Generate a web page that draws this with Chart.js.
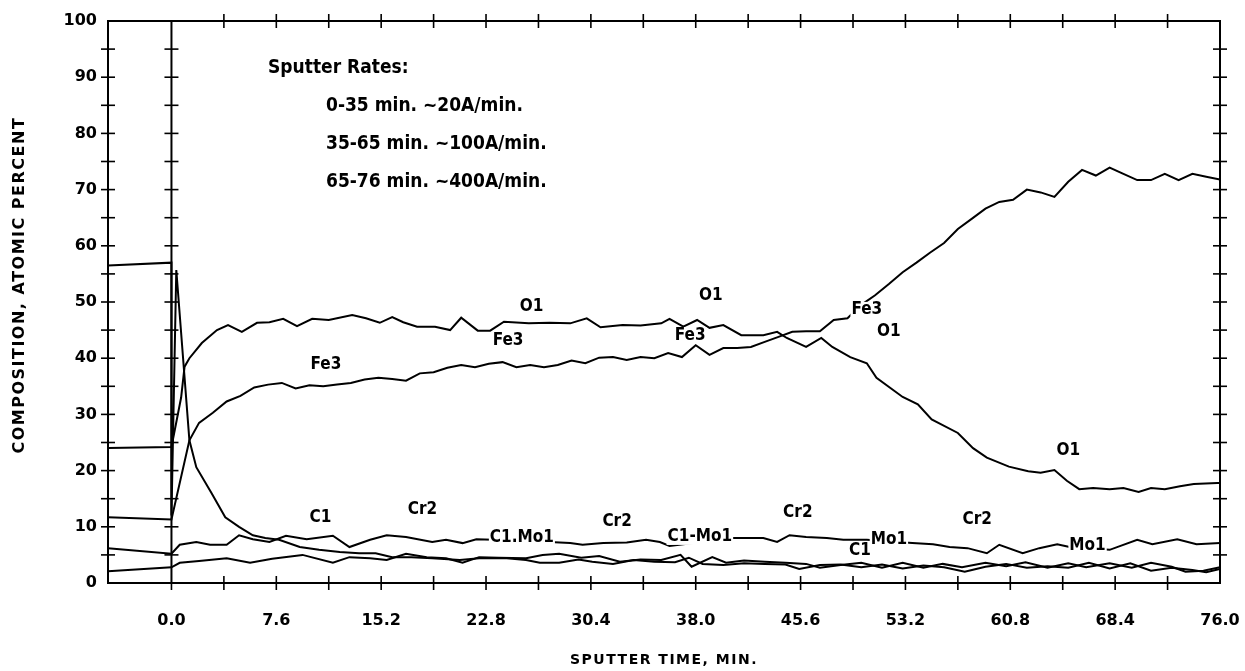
<!DOCTYPE html>
<html>
<head>
<meta charset="utf-8">
<title>Sputter depth profile</title>
<script src="https://cdn.jsdelivr.net/npm/chart.js"></script>
<style>
  html, body { margin: 0; padding: 0; background: #fff; }
  #wrap { width: 1245px; height: 671px; }
</style>
</head>
<body>
<div id="wrap"><canvas id="profile" width="1245" height="671"></canvas></div>
<script>
// sputter time (min) and composition (atomic %)
const o1Time = [-4.6, 0, 0.7, 0.95, 1.3, 2.2, 3.3, 4.1, 5.1, 6.2, 7.1, 8.1, 9.1, 10.2, 11.4, 13.1, 14.1, 15.1, 16, 16.8, 17.8, 19.1, 20.2, 21, 22.2, 23.1, 24.1, 25.9, 27.4, 28.9, 30.1, 31.1, 32.7, 34, 35.5, 36.1, 37.1, 38.1, 39, 40, 41.3, 42.9, 43.9, 44.6, 46, 47.1, 47.9, 49.2, 50.4, 51.1, 53, 54.1, 55.1, 57, 58.1, 59.1, 60.7, 62.1, 63, 64, 64.9, 65.8, 66.8, 68, 69, 70.1, 71, 72, 73.1, 74.1, 75.8, 76];
const o1Pct = [24, 24.2, 33, 38.5, 40, 42.7, 45, 45.9, 44.7, 46.3, 46.4, 47, 45.7, 47, 46.8, 47.7, 47.1, 46.3, 47.3, 46.4, 45.6, 45.6, 45, 47.2, 44.9, 44.9, 46.5, 46.2, 46.3, 46.2, 47.1, 45.5, 45.9, 45.8, 46.2, 47, 45.6, 46.8, 45.4, 45.9, 44.1, 44.1, 44.7, 43.6, 42, 43.6, 42, 40.2, 39.1, 36.5, 33.1, 31.8, 29.1, 26.7, 24, 22.3, 20.7, 19.9, 19.6, 20.1, 18.2, 16.7, 16.9, 16.7, 16.9, 16.2, 16.9, 16.7, 17.2, 17.6, 17.8, 17.8];

const fe3Time = [-4.6, 0, 1.3, 2, 3, 4, 5, 6, 7, 8, 9, 10, 11, 12, 13, 14, 15, 16, 17, 18, 19, 20, 21, 22, 23, 24, 25, 26, 27, 28, 29, 30, 31, 32, 33, 34, 35, 36, 37, 38, 39, 40, 41, 42, 43, 44, 45, 46, 47, 48, 49, 50, 51, 52, 53, 54, 55, 56, 57, 58, 59, 60, 61, 62, 63, 64, 65, 66, 67, 68, 69, 70, 71, 72, 73, 74, 75, 76];
const fe3Pct = [11.7, 11.3, 25.4, 28.5, 30.3, 32.3, 33.3, 34.8, 35.3, 35.6, 34.6, 35.2, 35, 35.3, 35.6, 36.2, 36.5, 36.3, 36, 37.3, 37.5, 38.3, 38.8, 38.4, 39, 39.3, 38.4, 38.8, 38.4, 38.8, 39.6, 39.1, 40.1, 40.2, 39.7, 40.2, 40, 40.9, 40.2, 42.3, 40.6, 41.8, 41.8, 42, 42.9, 43.8, 44.7, 44.8, 44.8, 46.8, 47.1, 49.5, 51.2, 53.2, 55.3, 57, 58.8, 60.5, 63, 64.8, 66.6, 67.8, 68.2, 70, 69.5, 68.7, 71.4, 73.5, 72.5, 73.9, 72.8, 71.7, 71.7, 72.8, 71.7, 72.8, 72.3, 71.8];

const cr2Time = [-4.6, 0, 0.6, 1.8, 2.8, 4, 4.9, 5.9, 7.1, 8.3, 9.8, 11.7, 12.9, 14.4, 15.6, 17, 18.9, 19.9, 21.1, 22.1, 23.3, 27.4, 28.9, 29.8, 31.3, 33, 34.4, 35.4, 36.1, 40.7, 42.9, 43.9, 44.8, 46, 47.5, 48.7, 50.4, 53.7, 55.2, 56.4, 57.7, 59.1, 60, 61.7, 62.9, 64.2, 65.1, 68, 70, 71.1, 72.9, 74.3, 76];
const cr2Pct = [6.2, 5.2, 6.8, 7.3, 6.8, 6.8, 8.5, 7.8, 7.3, 8.4, 7.8, 8.4, 6.4, 7.7, 8.5, 8.2, 7.3, 7.7, 7.1, 7.8, 7.7, 7.3, 7.1, 6.8, 7.1, 7.2, 7.7, 7.3, 6.6, 8, 8, 7.3, 8.5, 8.2, 8, 7.7, 7.7, 7.1, 6.9, 6.4, 6.2, 5.3, 6.8, 5.3, 6.2, 6.9, 6.4, 5.9, 7.7, 6.9, 7.8, 6.9, 7.1];

const c1Time = [-4.6, 0, 0, 0.35, 1.3, 1.8, 2.9, 3.9, 4.9, 5.9, 6.8, 7.8, 9.3, 10.7, 12.2, 13.6, 14.8, 16, 17.4, 18.9, 20.9, 22.3, 24.3, 25.7, 26.7, 28.1, 29.5, 30.5, 32, 33.5, 35, 36.5, 37.5, 38.5, 40, 41.5, 43, 44.5, 45.5, 47, 48.5, 50, 51.5, 53, 54.5, 56, 57.5, 59, 60.5, 62, 63.5, 65, 66.5, 68, 69.5, 71, 72.5, 74, 75, 76];
const c1Pct = [56.5, 57, 12, 55.7, 25.4, 20.6, 16, 11.7, 10, 8.5, 8, 7.7, 6.4, 5.9, 5.5, 5.3, 5.3, 4.6, 4.6, 4.4, 4.1, 4.4, 4.4, 4.1, 3.6, 3.6, 4.2, 3.8, 3.4, 4.1, 3.8, 3.7, 4.5, 3.4, 3.2, 3.5, 3.4, 3.3, 2.5, 3.2, 3.3, 2.8, 3.3, 2.6, 3.1, 2.8, 2, 2.9, 3.4, 2.7, 3, 2.7, 3.6, 2.6, 3.5, 2.2, 2.7, 2.3, 1.9, 2.5];

const mo1Time = [-4.6, 0, 0.6, 2, 4, 5.7, 7.3, 9.5, 11.7, 12.9, 14.4, 15.6, 17, 18.5, 19.9, 21.1, 22.3, 23.7, 25.7, 26.9, 28.1, 29.7, 31, 32.5, 34, 35.5, 36.9, 37.7, 39.2, 40.2, 41.5, 43, 44.5, 46, 47, 48.5, 50, 51.5, 53, 54.5, 55.9, 57.3, 59, 60.5, 61.9, 63.5, 65, 66.3, 68, 69.6, 71, 72.5, 73.5, 74.8, 76];
const mo1Pct = [2.1, 2.8, 3.6, 3.9, 4.4, 3.6, 4.3, 5, 3.6, 4.6, 4.4, 4.1, 5.2, 4.6, 4.4, 3.6, 4.6, 4.5, 4.4, 5, 5.2, 4.5, 4.8, 3.8, 4.2, 4.1, 5, 2.9, 4.6, 3.6, 4, 3.8, 3.6, 3.4, 2.7, 3.2, 3.6, 2.7, 3.6, 2.7, 3.4, 2.8, 3.6, 3, 3.7, 2.7, 3.5, 2.8, 3.5, 2.7, 3.6, 2.9, 2, 2.2, 2.8];

// axis ticks
const xTickValues = [0, 7.6, 15.2, 22.8, 30.4, 38.0, 45.6, 53.2, 60.8, 68.4, 76.0];
const xMarkValues = [3.8, 7.6, 11.4, 15.2, 19.0, 22.8, 26.6, 30.4, 34.2, 38.0, 41.8, 45.6, 49.4, 53.2, 57.0, 60.8, 64.6, 68.4, 72.2];
const yTickValues = [0, 10, 20, 30, 40, 50, 60, 70, 80, 90, 100];
const yMarkValues = [5, 10, 15, 20, 25, 30, 35, 40, 45, 50, 55, 60, 65, 70, 75, 80, 85, 90, 95];

// curve labels as printed on the plot
const labelText = ['O1', 'Fe3', 'Fe3', 'C1', 'Cr2', 'C1.Mo1', 'Cr2', 'C1-Mo1', 'O1', 'Fe3', 'Cr2', 'Fe3', 'O1', 'C1', 'Mo1', 'Cr2', 'O1', 'Mo1'];
const labelTime = [26.1, 24.4, 11.2, 10.8, 18.2, 25.4, 32.3, 38.3, 39.1, 37.6, 45.4, 50.4, 52.0, 49.9, 52.0, 58.4, 65.0, 66.4];
const labelPct = [49.1, 43.2, 38.8, 11.7, 13.0, 8.0, 10.9, 8.2, 51.2, 44.1, 12.5, 48.6, 44.7, 5.7, 7.7, 11.2, 23.5, 6.6];

const noteText = ['Sputter Rates:', '0-35 min. ~20A/min.', '35-65 min. ~100A/min.', '65-76 min. ~400A/min.'];
const noteTime = [7.0, 11.2, 11.2, 11.2];
const notePct = [91.6, 84.9, 78.1, 71.4];

const xTitle = 'SPUTTER TIME, MIN.';
const yTitle = 'COMPOSITION, ATOMIC PERCENT';

const plotFont = "'DejaVu Sans Condensed', 'Liberation Sans Narrow', sans-serif";

function toPoints(times, pcts) {
  return times.map((t, i) => ({ x: t, y: pcts[i] }));
}

function series(label, times, pcts) {
  return {
    label: label,
    data: toPoints(times, pcts),
    borderColor: '#000',
    borderWidth: 2,
    pointRadius: 0,
    tension: 0,
    fill: false
  };
}

// frame, zero line and the cross-shaped tick marks
const framePlugin = {
  id: 'frame',
  afterDatasetsDraw(chart) {
    const { ctx, chartArea: a, scales: { x, y } } = chart;
    const seg = (x1, y1, x2, y2) => { ctx.beginPath(); ctx.moveTo(x1, y1); ctx.lineTo(x2, y2); ctx.stroke(); };
    ctx.save();
    ctx.strokeStyle = '#000';
    ctx.lineWidth = 2;
    ctx.strokeRect(a.left, a.top, a.right - a.left, a.bottom - a.top);
    const x0 = x.getPixelForValue(0);
    seg(x0, a.top, x0, a.bottom);
    ctx.lineWidth = 1.6;
    yMarkValues.forEach(v => {
      const py = y.getPixelForValue(v);
      [a.left, x0, a.right].forEach(px => seg(px - 7, py, px + 7, py));
    });
    xMarkValues.forEach(t => {
      const px = x.getPixelForValue(t);
      seg(px, a.bottom - 7, px, a.bottom + 7);
      seg(px, a.top - 7, px, a.top + 7);
    });
    seg(x0, a.bottom, x0, a.bottom + 7);
    ctx.restore();
  }
};

// element labels, the sputter-rate note and the axis titles
const textPlugin = {
  id: 'texts',
  afterDraw(chart) {
    const { ctx, chartArea: a, scales: { x, y } } = chart;
    ctx.save();
    ctx.font = 'bold 17px ' + plotFont;
    ctx.textBaseline = 'middle';
    ctx.textAlign = 'center';
    labelText.forEach((s, i) => {
      const px = x.getPixelForValue(labelTime[i]);
      const py = y.getPixelForValue(labelPct[i]);
      const w = ctx.measureText(s).width;
      ctx.fillStyle = '#fff';
      ctx.fillRect(px - w / 2 - 1, py - 8, w + 2, 16);
      ctx.fillStyle = '#000';
      ctx.fillText(s, px, py);
    });
    ctx.font = 'bold 19px ' + plotFont;
    ctx.textAlign = 'left';
    noteText.forEach((s, i) => {
      ctx.fillText(s, x.getPixelForValue(noteTime[i]), y.getPixelForValue(notePct[i]));
    });

    ctx.textAlign = 'center';
    ctx.font = "bold 14px 'DejaVu Sans', sans-serif";
    ctx.letterSpacing = '1.5px';
    ctx.fillText(xTitle, (a.left + a.right) / 2, a.bottom + 77);
    ctx.font = "bold 16px 'DejaVu Sans', sans-serif";
    ctx.translate(20, y.getPixelForValue(53));
    ctx.rotate(-Math.PI / 2);
    ctx.fillText(yTitle, 0, 0);
    ctx.restore();
  }
};

new Chart(document.getElementById('profile'), {
  type: 'line',
  data: {
    datasets: [
      series('O1', o1Time, o1Pct),
      series('Fe3', fe3Time, fe3Pct),
      series('Cr2', cr2Time, cr2Pct),
      series('C1', c1Time, c1Pct),
      series('Mo1', mo1Time, mo1Pct)
    ]
  },
  options: {
    responsive: false,
    animation: false,
    devicePixelRatio: 1,
    layout: { padding: { top: 21, right: 25, left: 0, bottom: 0 } },
    plugins: {
      legend: { display: false },
      tooltip: { enabled: false }
    },
    scales: {
      x: {
        type: 'linear',
        min: -4.6,
        max: 76,
        afterBuildTicks: s => { s.ticks = xTickValues.map(v => ({ value: v })); },
        afterFit: s => { s.height = 88; s.paddingLeft = 0; s.paddingRight = 0; },
        grid: { display: false, drawTicks: false },
        border: { display: false },
        ticks: {
          padding: 28,
          color: '#000',
          maxRotation: 0,
          autoSkip: false,
          font: { family: 'DejaVu Sans', size: 16, weight: 'bold' },
          callback: v => v.toFixed(1)
        }
      },
      y: {
        min: 0,
        max: 100,
        afterBuildTicks: s => { s.ticks = yTickValues.map(v => ({ value: v })); },
        afterFit: s => { s.width = 108; s.paddingTop = 0; s.paddingBottom = 0; },
        grid: { display: false, drawTicks: false },
        border: { display: false },
        ticks: {
          padding: 11,
          color: '#000',
          font: { family: 'DejaVu Sans', size: 16, weight: 'bold' }
        }
      }
    }
  },
  plugins: [framePlugin, textPlugin]
});
</script>
</body>
</html>
